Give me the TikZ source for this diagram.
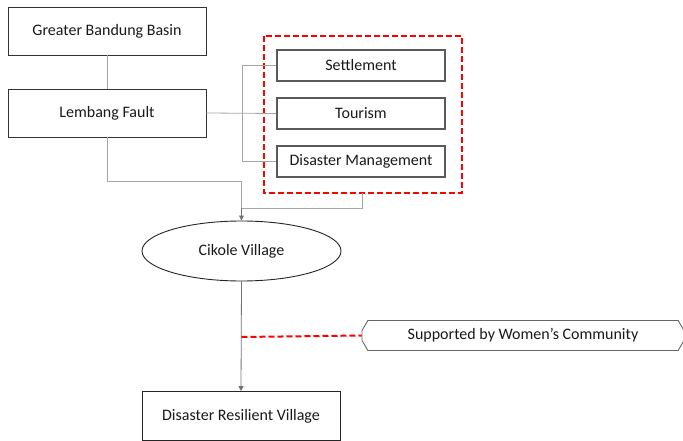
\documentclass[tikz,border=0pt]{standalone}
\usepackage{fontspec}
\setmainfont{Carlito}
\usetikzlibrary{shapes.geometric,shapes.misc,arrows.meta}
\begin{document}
\begin{tikzpicture}[x=1pt,y=-1pt,
  every node/.style={font=\fontsize{16}{19}\selectfont, text=black!90},
  bigbox/.style={draw=black!80, line width=0.9pt, minimum width=198pt, minimum height=48pt, inner sep=0pt},
  subbox/.style={draw=black!65, line width=1.3pt, minimum width=168pt, minimum height=31pt, inner sep=0pt},
  conn/.style={draw=black!35, line width=0.8pt},
  dconn/.style={draw=black!55, line width=0.8pt},
  tip/.style={-{Triangle[length=5pt,width=5pt]}},
  reddash/.style={draw=red, line width=2pt, dash pattern=on 6pt off 3pt}
]
\useasboundingbox (0,0) rectangle (683,441);
\node[bigbox] (gbb) at (107,31) {Greater Bandung Basin};
\node[bigbox] (lf) at (107,113) {Lembang Fault};
\node[subbox] (set) at (361,65.5) {Settlement};
\node[subbox] (tour) at (361,113.5) {Tourism};
\node[subbox] (dm) at (361,161.5) {Disaster Management};
\node[draw=black!85, line width=0.9pt, ellipse, minimum width=199pt, minimum height=60pt, inner sep=0pt] (ck) at (241.5,251) {Cikole Village};
\node[draw=black!85, line width=0.9pt, minimum width=198pt, minimum height=49pt, inner sep=0pt] (drv) at (241,416) {Disaster Resilient Village};
\node[draw=black!60, line width=0.9pt, chamfered rectangle, chamfered rectangle xsep=5pt, chamfered rectangle angle=30, minimum width=322pt, minimum height=30pt, inner sep=0pt] (sup) at (523,335.5) {Supported by Women’s Community};
\coordinate (rbTL) at (264,36);
\coordinate (rbBR) at (462,193);
\draw[reddash] (rbTL) rectangle (rbBR);
\coordinate (brT) at (242,65.5);
\coordinate (brB) at (242,161.5);
\coordinate (lfC) at (107,181.5);
\coordinate (mid) at (241.5,181.5);
\coordinate (rbB) at (362.5,193);
\coordinate (rbJ) at (362.5,208);
\coordinate (j2) at (241.5,208);
\coordinate (supJ) at (241.5,337);
\draw[conn] (gbb.south) -- (lf.north);
\draw[conn] (set.west) -- (brT) -- (brB) -- (dm.west);
\draw[conn] (lf.east) -- (tour.west);
\draw[conn] (lf.south) -- (lfC) -- (mid) -- (j2);
\draw[conn] (rbB) -- (rbJ) -- (j2);
\draw[dconn, tip] (j2) -- (ck.north);
\draw[dconn, tip] (ck.south) -- (drv.north);
\draw[reddash] (supJ) -- (sup.west);
\end{tikzpicture}
\end{document}
